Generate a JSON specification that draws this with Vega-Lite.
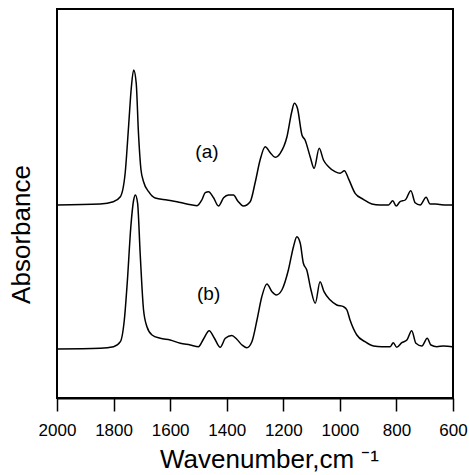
{
  "$schema": "https://vega.github.io/schema/vega-lite/v6.json",
  "autosize": "none",
  "width": 396,
  "height": 389,
  "padding": {"left": 57, "top": 9, "right": 16, "bottom": 77},
  "background": "white",
  "config": {
    "view": {"stroke": "black", "strokeWidth": 2},
    "font": "Liberation Sans"
  },
  "datasets": {
    "spec": [
      {"s":"a","wn":2000,"A":1.93},{"s":"a","wn":1847,"A":1.94},{"s":"a","wn":1801,"A":1.963},{"s":"a","wn":1776,"A":2.013},{"s":"a","wn":1759,"A":2.25},{"s":"a","wn":1747,"A":2.713},{"s":"a","wn":1737,"A":3.113},{"s":"a","wn":1729,"A":3.28},{"s":"a","wn":1720,"A":3.15},{"s":"a","wn":1712,"A":2.65},{"s":"a","wn":1703,"A":2.28},{"s":"a","wn":1694,"A":2.163},{"s":"a","wn":1676,"A":2.063},{"s":"a","wn":1653,"A":2.0},{"s":"a","wn":1611,"A":1.98},{"s":"a","wn":1576,"A":1.963},{"s":"a","wn":1541,"A":1.94},{"s":"a","wn":1505,"A":1.923},{"s":"a","wn":1488,"A":1.98},{"s":"a","wn":1476,"A":2.053},{"s":"a","wn":1464,"A":2.063},{"s":"a","wn":1447,"A":2.005},{"s":"a","wn":1429,"A":1.92},{"s":"a","wn":1411,"A":2.002},{"s":"a","wn":1394,"A":2.03},{"s":"a","wn":1376,"A":2.03},{"s":"a","wn":1361,"A":1.97},{"s":"a","wn":1341,"A":1.92},{"s":"a","wn":1317,"A":1.963},{"s":"a","wn":1299,"A":2.16},{"s":"a","wn":1282,"A":2.38},{"s":"a","wn":1264,"A":2.513},{"s":"a","wn":1246,"A":2.453},{"s":"a","wn":1229,"A":2.407},{"s":"a","wn":1211,"A":2.447},{"s":"a","wn":1187,"A":2.613},{"s":"a","wn":1170,"A":2.863},{"s":"a","wn":1161,"A":2.947},{"s":"a","wn":1150,"A":2.897},{"s":"a","wn":1134,"A":2.63},{"s":"a","wn":1123,"A":2.58},{"s":"a","wn":1105,"A":2.413},{"s":"a","wn":1091,"A":2.297},{"s":"a","wn":1073,"A":2.497},{"s":"a","wn":1058,"A":2.38},{"s":"a","wn":1040,"A":2.313},{"s":"a","wn":1017,"A":2.263},{"s":"a","wn":999,"A":2.247},{"s":"a","wn":984,"A":2.273},{"s":"a","wn":970,"A":2.197},{"s":"a","wn":946,"A":2.047},{"s":"a","wn":917,"A":1.987},{"s":"a","wn":887,"A":1.94},{"s":"a","wn":858,"A":1.93},{"s":"a","wn":828,"A":1.93},{"s":"a","wn":813,"A":1.973},{"s":"a","wn":801,"A":1.92},{"s":"a","wn":787,"A":1.963},{"s":"a","wn":769,"A":1.98},{"s":"a","wn":749,"A":2.073},{"s":"a","wn":734,"A":1.953},{"s":"a","wn":716,"A":1.93},{"s":"a","wn":695,"A":2.007},{"s":"a","wn":681,"A":1.94},{"s":"a","wn":663,"A":1.94},{"s":"a","wn":646,"A":1.935},{"s":"a","wn":622,"A":1.93},{"s":"a","wn":604,"A":1.93},{"s":"a","wn":600,"A":1.93},
      {"s":"b","wn":2000,"A":0.49},{"s":"b","wn":1847,"A":0.497},{"s":"b","wn":1800,"A":0.513},{"s":"b","wn":1776,"A":0.563},{"s":"b","wn":1762,"A":0.78},{"s":"b","wn":1751,"A":1.18},{"s":"b","wn":1739,"A":1.713},{"s":"b","wn":1729,"A":1.98},{"s":"b","wn":1723,"A":2.03},{"s":"b","wn":1715,"A":1.947},{"s":"b","wn":1706,"A":1.447},{"s":"b","wn":1694,"A":0.88},{"s":"b","wn":1682,"A":0.713},{"s":"b","wn":1664,"A":0.63},{"s":"b","wn":1635,"A":0.597},{"s":"b","wn":1600,"A":0.58},{"s":"b","wn":1564,"A":0.547},{"s":"b","wn":1529,"A":0.53},{"s":"b","wn":1500,"A":0.513},{"s":"b","wn":1482,"A":0.59},{"s":"b","wn":1462,"A":0.673},{"s":"b","wn":1444,"A":0.6},{"s":"b","wn":1423,"A":0.507},{"s":"b","wn":1405,"A":0.597},{"s":"b","wn":1382,"A":0.625},{"s":"b","wn":1365,"A":0.59},{"s":"b","wn":1346,"A":0.53},{"s":"b","wn":1329,"A":0.503},{"s":"b","wn":1311,"A":0.563},{"s":"b","wn":1293,"A":0.78},{"s":"b","wn":1276,"A":1.013},{"s":"b","wn":1258,"A":1.14},{"s":"b","wn":1240,"A":1.063},{"s":"b","wn":1225,"A":1.03},{"s":"b","wn":1205,"A":1.08},{"s":"b","wn":1182,"A":1.28},{"s":"b","wn":1164,"A":1.513},{"s":"b","wn":1152,"A":1.613},{"s":"b","wn":1140,"A":1.547},{"s":"b","wn":1129,"A":1.347},{"s":"b","wn":1117,"A":1.28},{"s":"b","wn":1102,"A":1.08},{"s":"b","wn":1087,"A":0.947},{"s":"b","wn":1070,"A":1.163},{"s":"b","wn":1056,"A":1.063},{"s":"b","wn":1034,"A":0.98},{"s":"b","wn":1011,"A":0.93},{"s":"b","wn":987,"A":0.913},{"s":"b","wn":975,"A":0.88},{"s":"b","wn":964,"A":0.78},{"s":"b","wn":940,"A":0.63},{"s":"b","wn":911,"A":0.563},{"s":"b","wn":881,"A":0.52},{"s":"b","wn":852,"A":0.513},{"s":"b","wn":822,"A":0.513},{"s":"b","wn":811,"A":0.553},{"s":"b","wn":799,"A":0.507},{"s":"b","wn":781,"A":0.553},{"s":"b","wn":763,"A":0.58},{"s":"b","wn":746,"A":0.673},{"s":"b","wn":731,"A":0.547},{"s":"b","wn":710,"A":0.52},{"s":"b","wn":691,"A":0.597},{"s":"b","wn":678,"A":0.53},{"s":"b","wn":657,"A":0.513},{"s":"b","wn":634,"A":0.52},{"s":"b","wn":604,"A":0.513},{"s":"b","wn":600,"A":0.513}
    ],
    "labels": [
      {"wn": 1470, "A": 2.46, "t": "(a)"},
      {"wn": 1464, "A": 1.04, "t": "(b)"}
    ]
  },
  "layer": [
    {
      "data": {"name": "spec"},
      "mark": {"type": "line", "color": "black", "strokeWidth": 1.5, "interpolate": "monotone"},
      "encoding": {
        "x": {
          "field": "wn", "type": "quantitative",
          "scale": {"domain": [600, 2000], "reverse": true, "nice": false, "zero": false},
          "axis": {
            "values": [2000, 1800, 1600, 1400, 1200, 1000, 800, 600],
            "format": "d",
            "title": "Wavenumber,cm ⁻¹",
            "titleFontSize": 26, "titleFontWeight": "normal", "titleColor": "black",
            "titleX": 212, "titleY": 69, "titleBaseline": "alphabetic", "titleAlign": "center",
            "labelFontSize": 17, "labelColor": "black", "labelPadding": 11, "labelFlush": false,
            "tickSize": 13, "tickColor": "black", "tickWidth": 1.5,
            "domainColor": "black", "domainWidth": 2, "grid": false
          }
        },
        "y": {
          "field": "A", "type": "quantitative",
          "scale": {"domain": [0, 3.89], "nice": false, "zero": false},
          "axis": {
            "title": "Absorbance", "titleFontSize": 26, "titleFontWeight": "normal", "titleColor": "black",
            "titleX": -36, "titleY": 225, "titleAngle": -90, "titleBaseline": "middle", "titleAlign": "center",
            "labels": false, "ticks": false, "domain": false, "grid": false
          }
        },
        "detail": {"field": "s"}
      }
    },
    {
      "data": {"name": "labels"},
      "mark": {"type": "text", "fontSize": 19, "color": "black", "align": "center", "baseline": "middle"},
      "encoding": {
        "x": {"field": "wn", "type": "quantitative"},
        "y": {"field": "A", "type": "quantitative"},
        "text": {"field": "t"}
      }
    }
  ]
}
